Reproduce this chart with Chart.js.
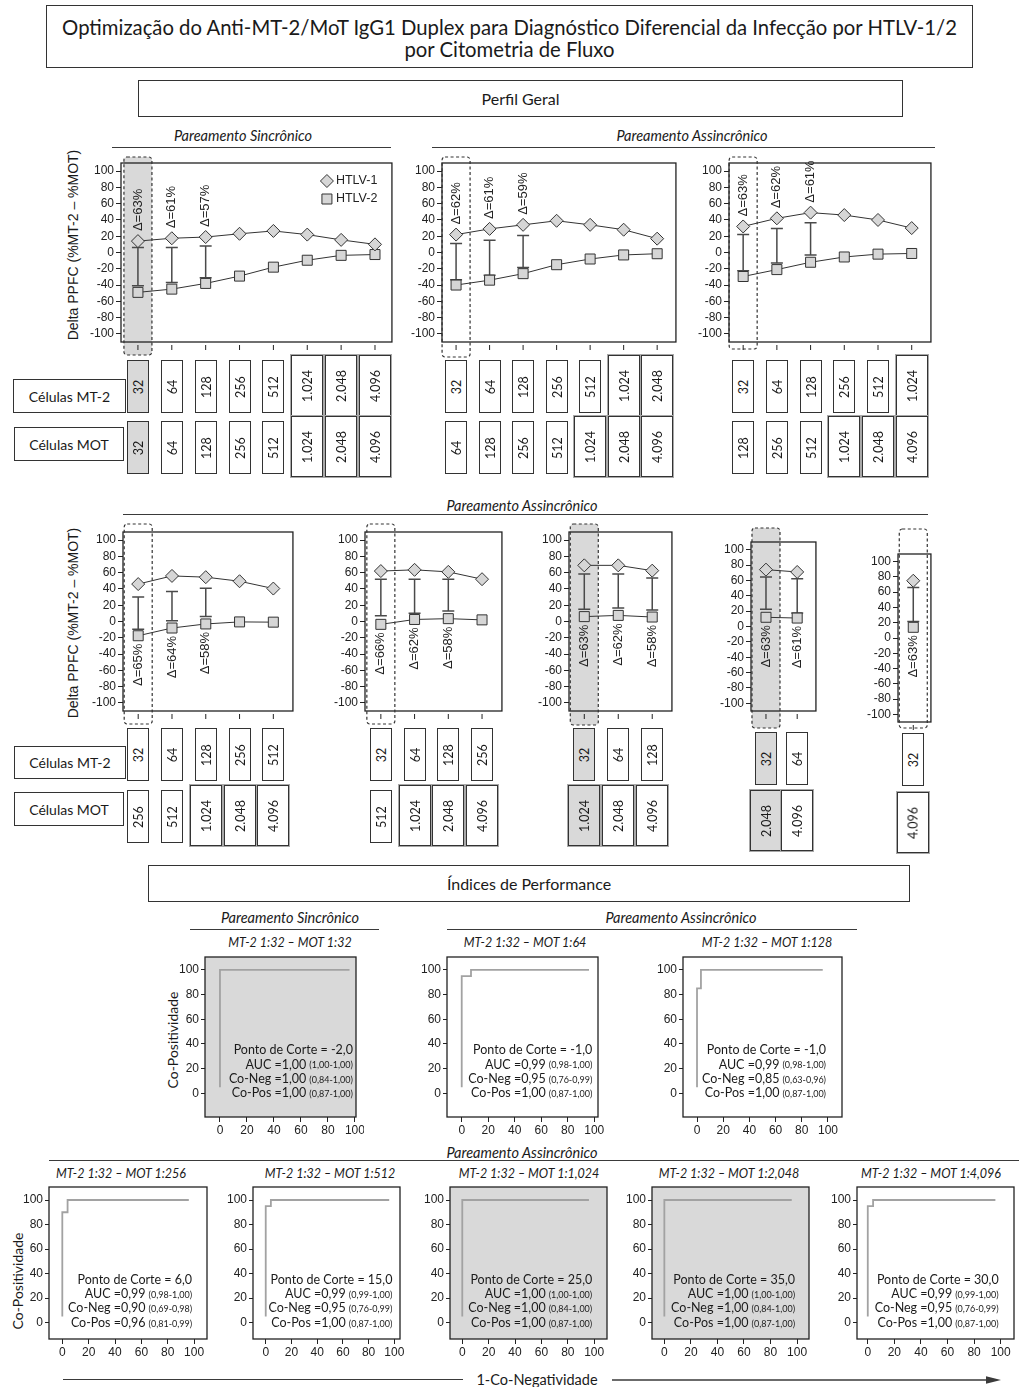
<!DOCTYPE html>
<html lang="pt-BR">
<head>
<meta charset="utf-8">
<title>Anti-MT-2/MoT IgG1 Duplex – HTLV-1/2</title>
<script src="https://cdn.jsdelivr.net/npm/chart.js@4.4.1/dist/chart.umd.min.js"></script>
<style>
  html, body { margin: 0; padding: 0; background: #fff; }
  #page { position: relative; width: 1019px; height: 1387px; overflow: hidden; font-family: Lato, 'Open Sans', sans-serif; color: #1a1a1a; }
  #page > * { position: absolute; }
  .frame { border: 1px solid #333; box-sizing: border-box; display: flex; align-items: center; justify-content: center; text-align: center; background: #fff; }
  .ctr { transform: translate(-50%, -50%); white-space: nowrap; }
  .it { font-style: italic; }
  .rule { height: 0; border-top: 1.4px solid #3a3a3a; }
  .vert { white-space: nowrap; transform: translate(-50%, -50%) rotate(-90deg); }
  .cell { border: 1px solid #333; box-sizing: border-box; background: #fff; }
  .cell.big { box-shadow: 0 0 0 1px #a8a8a8; }
  .cell.hl { background: #d9d9d9; }
  .cell span { position: absolute; left: 50%; top: 50%; transform: translate(-50%, -50%) rotate(-90deg); white-space: nowrap; font-size: 12.5px; }
</style>
</head>
<body>
<div id="page"></div>
<script>
// ---------------- Perfil geral: Delta PPFC (%MT-2 - %MOT) ----------------
// Pareamento sincrônico: MT-2 e MOT na mesma diluição
const SINC_MT2    = ['32', '64', '128', '256', '512', '1.024', '2.048', '4.096'];
const SINC_MOT    = ['32', '64', '128', '256', '512', '1.024', '2.048', '4.096'];
const SINC_HTLV1  = [14, 17.5, 19, 23, 26.5, 22, 15.5, 10];
const SINC_HTLV2  = [-49, -45, -38, -29, -18, -9.5, -3.5, -2.5];
const SINC_BAR_HI = [6, 6, 8];
const SINC_BAR_LO = [-41, -37, -31];
const SINC_DELTA  = ['Δ=63%', 'Δ=61%', 'Δ=57%'];

// Pareamento assincrônico, MOT 2x mais diluída
const ASS2_MT2    = ['32', '64', '128', '256', '512', '1.024', '2.048'];
const ASS2_MOT    = ['64', '128', '256', '512', '1.024', '2.048', '4.096'];
const ASS2_HTLV1  = [22, 29, 34, 39, 34, 28, 17];
const ASS2_HTLV2  = [-40, -34, -26, -15, -8, -3, -1.5];
const ASS2_BAR_HI = [11, 15, 21];
const ASS2_BAR_LO = [-33.5, -28, -18.5];
const ASS2_DELTA  = ['Δ=62%', 'Δ=61%', 'Δ=59%'];

// MOT 4x mais diluída
const ASS4_MT2    = ['32', '64', '128', '256', '512', '1.024'];
const ASS4_MOT    = ['128', '256', '512', '1.024', '2.048', '4.096'];
const ASS4_HTLV1  = [32, 42, 49, 46, 40, 30];
const ASS4_HTLV2  = [-29.5, -21, -12, -5.5, -2, -1.2];
const ASS4_BAR_HI = [22, 29.5, 36.5];
const ASS4_BAR_LO = [-22.5, -13, -3];
const ASS4_DELTA  = ['Δ=63%', 'Δ=62%', 'Δ=61%'];

// MOT 8x mais diluída
const ASS8_MT2    = ['32', '64', '128', '256', '512'];
const ASS8_MOT    = ['256', '512', '1.024', '2.048', '4.096'];
const ASS8_HTLV1  = [46, 56, 54.5, 49.5, 40.5];
const ASS8_HTLV2  = [-17.5, -8, -3, -0.5, -0.8];
const ASS8_BAR_HI = [30, 37, 41];
const ASS8_BAR_LO = [-9.5, 0.8, 6];
const ASS8_DELTA  = ['Δ=65%', 'Δ=64%', 'Δ=58%'];

// MOT 16x mais diluída
const ASS16_MT2    = ['32', '64', '128', '256'];
const ASS16_MOT    = ['512', '1.024', '2.048', '4.096'];
const ASS16_HTLV1  = [62, 63.5, 61, 52];
const ASS16_HTLV2  = [-3.5, 2.5, 3.5, 2];
const ASS16_BAR_HI = [52, 52, 52];
const ASS16_BAR_LO = [7, 10, 13];
const ASS16_DELTA  = ['Δ=66%', 'Δ=62%', 'Δ=58%'];

// MOT 32x mais diluída
const ASS32_MT2    = ['32', '64', '128'];
const ASS32_MOT    = ['1.024', '2.048', '4.096'];
const ASS32_HTLV1  = [69, 69, 62.5];
const ASS32_HTLV2  = [6, 7.5, 5.5];
const ASS32_BAR_HI = [58.5, 58.5, 53.5];
const ASS32_BAR_LO = [15, 16.5, 14];
const ASS32_DELTA  = ['Δ=63%', 'Δ=62%', 'Δ=58%'];

// MOT 64x mais diluída
const ASS64_MT2    = ['32', '64'];
const ASS64_MOT    = ['2.048', '4.096'];
const ASS64_HTLV1  = [74, 71];
const ASS64_HTLV2  = [12, 11];
const ASS64_BAR_HI = [64.5, 62];
const ASS64_BAR_LO = [22.5, 17.5];
const ASS64_DELTA  = ['Δ=63%', 'Δ=61%'];

// MOT 128x mais diluída
const ASS128_MT2    = ['32'];
const ASS128_MOT    = ['4.096'];
const ASS128_HTLV1  = [75];
const ASS128_HTLV2  = [14];
const ASS128_BAR_HI = [66];
const ASS128_BAR_LO = [21.5];
const ASS128_DELTA  = ['Δ=63%'];

const DELTA_TICKS = [-100, -80, -60, -40, -20, 0, 20, 40, 60, 80, 100];

// ---------------- Índices de performance: curvas ROC ----------------
// x = 1-Co-Negatividade (%), y = Co-Positividade (%)
const ROC_S32_X   = [0, 0, 96];          const ROC_S32_Y   = [5, 100, 100];
const ROC_A64_X   = [0, 0, 7, 7, 96];    const ROC_A64_Y   = [5, 95, 95, 100, 100];
const ROC_A128_X  = [0, 0, 3, 3, 96];    const ROC_A128_Y  = [5, 85, 85, 100, 100];
const ROC_A256_X  = [0, 0, 4, 4, 96];    const ROC_A256_Y  = [5, 90, 90, 100, 100];
const ROC_A512_X  = [0, 0, 4, 4, 96];    const ROC_A512_Y  = [5, 95, 95, 100, 100];
const ROC_A1024_X = [0, 0, 96];          const ROC_A1024_Y = [5, 100, 100];
const ROC_A2048_X = [0, 0, 96];          const ROC_A2048_Y = [5, 100, 100];
const ROC_A4096_X = [0, 0, 4, 4, 96];    const ROC_A4096_Y = [5, 95, 95, 100, 100];

const ROC_TITLES   = ['MT-2 1:32 – MOT 1:32', 'MT-2 1:32 – MOT 1:64', 'MT-2 1:32 – MOT 1:128',
                      'MT-2 1:32 – MOT 1:256', 'MT-2 1:32 – MOT 1:512', 'MT-2 1:32 – MOT 1:1,024',
                      'MT-2 1:32 – MOT 1:2,048', 'MT-2 1:32 – MOT 1:4,096'];
const ROC_CUTOFF   = ['-2,0', '-1,0', '-1,0', '6,0', '15,0', '25,0', '35,0', '30,0'];
const ROC_AUC      = ['1,00', '0,99', '0,99', '0,99', '0,99', '1,00', '1,00', '0,99'];
const ROC_AUC_CI   = ['1,00-1,00', '0,98-1,00', '0,98-1,00', '0,98-1,00', '0,99-1,00', '1,00-1,00', '1,00-1,00', '0,99-1,00'];
const ROC_CONEG    = ['1,00', '0,95', '0,85', '0,90', '0,95', '1,00', '1,00', '0,95'];
const ROC_CONEG_CI = ['0,84-1,00', '0,76-0,99', '0,63-0,96', '0,69-0,98', '0,76-0,99', '0,84-1,00', '0,84-1,00', '0,76-0,99'];
const ROC_COPOS    = ['1,00', '1,00', '1,00', '0,96', '1,00', '1,00', '1,00', '1,00'];
const ROC_COPOS_CI = ['0,87-1,00', '0,87-1,00', '0,87-1,00', '0,81-0,99', '0,87-1,00', '0,87-1,00', '0,87-1,00', '0,87-1,00'];
const ROC_TICKS    = [0, 20, 40, 60, 80, 100];

// ---------------- page helpers ----------------
const PAGE = document.getElementById('page');
const SANS = "'Liberation Sans', Arial, sans-serif";
const BODY = "Lato, 'Open Sans', sans-serif";
const INK = '#222';
const MARK_FILL = '#d6d6d6';
const MARK_EDGE = '#333';
const HL_FILL = '#d9d9d9';
Chart.defaults.font.family = SANS;
Chart.defaults.color = INK;

function el(tag, cls, css, text) {
  const e = document.createElement(tag);
  if (cls) e.className = cls;
  Object.assign(e.style, css);
  if (text != null) e.textContent = text;
  PAGE.appendChild(e);
  return e;
}
const px = v => v + 'px';
function box(l, t, w, h, text, fs) {
  return el('div', 'frame', { left: px(l), top: px(t), width: px(w), height: px(h), fontSize: px(fs) }, text);
}
function label(x, y, text, fs, italic) {
  return el('div', 'ctr' + (italic ? ' it' : ''), { left: px(x), top: px(y), fontSize: px(fs) }, text);
}
function vlabel(x, y, text, fs, family) {
  return el('div', 'vert', { left: px(x), top: px(y), fontSize: px(fs), fontFamily: family }, text);
}
function rule(x1, x2, y) {
  return el('div', 'rule', { left: px(x1), top: px(y), width: px(x2 - x1) });
}
function cell(cx, top, text, grey) {
  const big = text.length > 3;
  const w = big ? 32 : 22, h = big ? 61 : 53, t = big ? top - 5 : top;
  const c = el('div', 'cell' + (big ? ' big' : '') + (grey ? ' hl' : ''),
    { left: px(cx - w / 2), top: px(t), width: px(w), height: px(h) });
  const s = document.createElement('span');
  s.textContent = text;
  c.appendChild(s);
}
function makeCanvas(plot, pad) {
  const c = document.createElement('canvas');
  const w = plot.r - plot.l + pad.l + pad.r, h = plot.b - plot.t + pad.t + pad.b;
  c.width = w; c.height = h;
  Object.assign(c.style, { left: px(plot.l - pad.l), top: px(plot.t - pad.t), width: px(w), height: px(h) });
  PAGE.appendChild(c);
  return c;
}
// fixed tick positions taken from a list of values
const fixedTicks = list => s => { s.ticks = list.map(v => ({ value: v })); };

function drawMarker(ctx, kind, x, y) {
  ctx.beginPath();
  if (kind === 'diamond') {
    const r = 6.5;
    ctx.moveTo(x - r, y); ctx.lineTo(x, y - r); ctx.lineTo(x + r, y); ctx.lineTo(x, y + r); ctx.closePath();
  } else {
    ctx.rect(x - 5, y - 5, 10, 10);
  }
  ctx.fillStyle = MARK_FILL; ctx.fill();
  ctx.lineWidth = 1; ctx.strokeStyle = MARK_EDGE; ctx.stroke();
}

// ---------------- static text & frames ----------------
const title = box(46, 5, 927, 63, null, 20.3);
title.style.lineHeight = '22px';
title.style.paddingTop = '3px';
title.innerHTML = 'Optimização do Anti-MT-2/MoT IgG1 Duplex para Diagnóstico Diferencial da Infecção por HTLV-1/2<br>por Citometria de Fluxo';

box(138, 80, 765, 37, 'Perfil Geral', 16);
label(243, 135, 'Pareamento Sincrônico', 14.5, true);
rule(112, 391, 147);
label(692, 135, 'Pareamento Assincrônico', 14.5, true);
rule(432, 935, 147);
vlabel(73, 245, 'Delta PPFC (%MT-2 – %MOT)', 14, SANS);
box(13, 379, 113, 34, 'Células MT-2', 14);
box(14, 427, 110, 34, 'Células MOT', 14);

label(522, 505, 'Pareamento Assincrônico', 14.5, true);
rule(123, 928, 514);
vlabel(73, 623, 'Delta PPFC (%MT-2 – %MOT)', 14, SANS);
box(14, 746, 112, 33, 'Células MT-2', 14);
box(14, 792, 110, 34, 'Células MOT', 14);

box(148, 865, 762, 37, 'Índices de Performance', 16);
label(290, 917, 'Pareamento Sincrônico', 14.5, true);
rule(190, 379, 929);
label(681, 917, 'Pareamento Assincrônico', 14.5, true);
rule(447, 857, 929);
vlabel(172, 1040, 'Co-Positividade', 14, BODY);

label(522, 1152, 'Pareamento Assincrônico', 14.5, true);
rule(49, 1019, 1160);
vlabel(17, 1281, 'Co-Positividade', 14, BODY);

label(537, 1379, '1-Co-Negatividade', 14.5, false);
rule(63, 463, 1379);
const arrow = document.createElementNS('http://www.w3.org/2000/svg', 'svg');
arrow.setAttribute('width', '400'); arrow.setAttribute('height', '14');
Object.assign(arrow.style, { left: '606px', top: '1373px' });
arrow.innerHTML = '<line x1="6" y1="7" x2="388" y2="7" stroke="#3a3a3a" stroke-width="1.4"/>' +
                  '<polygon points="380,3.2 395,7 380,10.8" fill="#3a3a3a"/>';
PAGE.appendChild(arrow);

// ---------------- Delta PPFC panels ----------------
const DELTA_PANELS = [
  { mt2: SINC_MT2, mot: SINC_MOT, h1: SINC_HTLV1, h2: SINC_HTLV2, hi: SINC_BAR_HI, lo: SINC_BAR_LO, delta: SINC_DELTA,
    plot: { l: 121, t: 163, r: 392, b: 342 }, xr: [-0.5, 7.5], text: 'above', hl: { fill: true, t: 157, b: 355 }, cells: [360, 421], legend: true },
  { mt2: ASS2_MT2, mot: ASS2_MOT, h1: ASS2_HTLV1, h2: ASS2_HTLV2, hi: ASS2_BAR_HI, lo: ASS2_BAR_LO, delta: ASS2_DELTA,
    plot: { l: 442, t: 163, r: 676, b: 342 }, xr: [-0.42, 6.56], text: 'above', hl: { fill: false, t: 157, b: 357 }, cells: [360, 421] },
  { mt2: ASS4_MT2, mot: ASS4_MOT, h1: ASS4_HTLV1, h2: ASS4_HTLV2, hi: ASS4_BAR_HI, lo: ASS4_BAR_LO, delta: ASS4_DELTA,
    plot: { l: 729, t: 163, r: 931, b: 342 }, xr: [-0.42, 5.57], text: 'above', hl: { fill: false, t: 157, b: 349 }, cells: [360, 421] },
  { mt2: ASS8_MT2, mot: ASS8_MOT, h1: ASS8_HTLV1, h2: ASS8_HTLV2, hi: ASS8_BAR_HI, lo: ASS8_BAR_LO, delta: ASS8_DELTA,
    plot: { l: 123, t: 532, r: 293, b: 711 }, xr: [-0.45, 4.58], text: 'below', hl: { fill: false, t: 524, b: 724 }, cells: [728, 790] },
  { mt2: ASS16_MT2, mot: ASS16_MOT, h1: ASS16_HTLV1, h2: ASS16_HTLV2, hi: ASS16_BAR_HI, lo: ASS16_BAR_LO, delta: ASS16_DELTA,
    plot: { l: 365, t: 532, r: 502, b: 711 }, xr: [-0.47, 3.59], text: 'below', hl: { fill: false, t: 524, b: 724 }, cells: [728, 790] },
  { mt2: ASS32_MT2, mot: ASS32_MOT, h1: ASS32_HTLV1, h2: ASS32_HTLV2, hi: ASS32_BAR_HI, lo: ASS32_BAR_LO, delta: ASS32_DELTA,
    plot: { l: 569, t: 532, r: 672, b: 711 }, xr: [-0.45, 2.58], text: 'below', hl: { fill: true, t: 524, b: 725 }, cells: [728, 790] },
  { mt2: ASS64_MT2, mot: ASS64_MOT, h1: ASS64_HTLV1, h2: ASS64_HTLV2, hi: ASS64_BAR_HI, lo: ASS64_BAR_LO, delta: ASS64_DELTA,
    plot: { l: 751, t: 542, r: 816, b: 711 }, xr: [-0.48, 1.6], text: 'below', hl: { fill: true, t: 528, b: 728 }, cells: [732, 795] },
  { mt2: ASS128_MT2, mot: ASS128_MOT, h1: ASS128_HTLV1, h2: ASS128_HTLV2, hi: ASS128_BAR_HI, lo: ASS128_BAR_LO, delta: ASS128_DELTA,
    plot: { l: 898, t: 554, r: 931, b: 722 }, xr: [-0.45, 0.52], text: 'below', hl: { fill: false, t: 529, b: 728 }, cells: [733, 797] }
];

function deltaExtras(cfg) {
  const oy = cfg.plot.t - cfg.pad.t;
  return {
    id: 'deltaExtras',
    beforeDatasetsDraw(chart) {
      const { ctx, chartArea: a, scales: { x, y } } = chart;
      const hx = x.getPixelForValue(0);
      ctx.save();
      if (cfg.hl.fill) {
        ctx.fillStyle = HL_FILL;
        ctx.beginPath(); ctx.roundRect(hx - 14, cfg.hl.t - oy, 28, cfg.hl.b - cfg.hl.t, 3); ctx.fill();
      }
      // plot frame
      ctx.strokeStyle = INK; ctx.lineWidth = 1.3;
      ctx.strokeRect(a.left, a.top, a.right - a.left, a.bottom - a.top);
      // category tick marks under the frame
      ctx.lineWidth = 1;
      cfg.mt2.forEach((_, i) => {
        const p = x.getPixelForValue(i);
        ctx.beginPath(); ctx.moveTo(p, a.bottom + 3); ctx.lineTo(p, a.bottom + 8); ctx.stroke();
      });
      // error bars between the groups
      ctx.strokeStyle = '#4a4a4a'; ctx.lineWidth = 1.5;
      cfg.hi.forEach((h, i) => {
        const p = x.getPixelForValue(i), y1 = y.getPixelForValue(h), y2 = y.getPixelForValue(cfg.lo[i]);
        ctx.beginPath();
        ctx.moveTo(p, y1); ctx.lineTo(p, y2);
        ctx.moveTo(p - 6, y1); ctx.lineTo(p + 6, y1);
        ctx.moveTo(p - 6, y2); ctx.lineTo(p + 6, y2);
        ctx.stroke();
      });
      ctx.restore();
    },
    afterDatasetsDraw(chart) {
      const { ctx, chartArea: a, scales: { x, y } } = chart;
      const hx = x.getPixelForValue(0);
      ctx.save();
      ctx.strokeStyle = '#333'; ctx.lineWidth = 1.2; ctx.setLineDash([3, 2.5]);
      ctx.beginPath(); ctx.roundRect(hx - 14, cfg.hl.t - oy, 28, cfg.hl.b - cfg.hl.t, 3); ctx.stroke();
      ctx.setLineDash([]);
      // Δ labels
      ctx.fillStyle = INK; ctx.font = '13px ' + SANS; ctx.textBaseline = 'middle';
      cfg.delta.forEach((txt, i) => {
        const p = x.getPixelForValue(i);
        ctx.save();
        if (cfg.text === 'above') {
          ctx.translate(p, y.getPixelForValue(cfg.h1[i]) - 10);
          ctx.rotate(-Math.PI / 2); ctx.textAlign = 'left';
        } else {
          const low = Math.max(y.getPixelForValue(cfg.h2[i]), y.getPixelForValue(cfg.lo[i]));
          ctx.translate(p, low + 8);
          ctx.rotate(-Math.PI / 2); ctx.textAlign = 'right';
        }
        ctx.fillText(txt, 0, 0);
        ctx.restore();
      });
      if (cfg.legend) {
        const lx = a.right - 65;
        ctx.font = '12.5px ' + SANS; ctx.textAlign = 'left';
        chart.data.datasets.forEach((ds, k) => {
          const ly = a.top + 18 + k * 18;
          drawMarker(ctx, k === 0 ? 'diamond' : 'square', lx, ly);
          ctx.fillStyle = INK; ctx.fillText(ds.label, lx + 9, ly);
        });
      }
      ctx.restore();
    }
  };
}

function deltaPanel(cfg) {
  const Y_W = 40;
  cfg.pad = { l: 46, t: 30, r: 8, b: 24 };
  const cv = makeCanvas(cfg.plot, cfg.pad);
  const pts = arr => arr.map((v, i) => ({ x: i, y: v }));
  const common = { borderColor: '#333', borderWidth: 1, backgroundColor: MARK_FILL, pointBackgroundColor: MARK_FILL,
                   pointBorderColor: MARK_EDGE, pointBorderWidth: 1, tension: 0, clip: false };
  const chart = new Chart(cv, {
    type: 'line',
    data: { datasets: [
      Object.assign({ label: 'HTLV-1', data: pts(cfg.h1), pointStyle: 'rectRot', pointRadius: 6.5 }, common),
      Object.assign({ label: 'HTLV-2', data: pts(cfg.h2), pointStyle: 'rect', pointRadius: 7.07 }, common)
    ] },
    options: {
      responsive: false, animation: false, events: [],
      layout: { padding: { left: cfg.pad.l - Y_W, top: cfg.pad.t, right: cfg.pad.r, bottom: cfg.pad.b } },
      plugins: { legend: { display: false }, tooltip: { enabled: false } },
      scales: {
        x: { type: 'linear', display: false, min: cfg.xr[0], max: cfg.xr[1] },
        y: {
          min: -110, max: 110,
          border: { display: false },
          grid: { drawOnChartArea: false, drawTicks: true, tickLength: 5, tickColor: INK },
          ticks: { autoSkip: false, font: { family: SANS, size: 12 }, color: INK, padding: 2 },
          afterBuildTicks: fixedTicks(DELTA_TICKS),
          afterFit(s) { s.width = Y_W; s.paddingTop = 0; s.paddingBottom = 0; }
        }
      }
    },
    plugins: [deltaExtras(cfg)]
  });
  const ox = cfg.plot.l - cfg.pad.l;
  cfg.mt2.forEach((t, i) => cell(ox + chart.scales.x.getPixelForValue(i), cfg.cells[0], t, cfg.hl.fill && i === 0));
  cfg.mot.forEach((t, i) => cell(ox + chart.scales.x.getPixelForValue(i), cfg.cells[1], t, cfg.hl.fill && i === 0));
}
DELTA_PANELS.forEach(deltaPanel);

// ---------------- ROC panels ----------------
const ROC_ROW1_Y = [-19.2, 110.5];
const ROC_ROW2_Y = [-13.3, 110.6];
const ROC_PANELS = [
  { x: ROC_S32_X,   y: ROC_S32_Y,   plot: { l: 205, t: 957, r: 356, b: 1117 },  xr: [-11.1, 100.8], yr: ROC_ROW1_Y, grey: true,  tx: 290, ty: 942 },
  { x: ROC_A64_X,   y: ROC_A64_Y,   plot: { l: 447, t: 957, r: 598, b: 1117 },  xr: [-11.1, 102.8], yr: ROC_ROW1_Y, grey: false, tx: 525, ty: 942 },
  { x: ROC_A128_X,  y: ROC_A128_Y,  plot: { l: 683, t: 957, r: 842, b: 1117 },  xr: [-10.7, 110.7], yr: ROC_ROW1_Y, grey: false, tx: 767, ty: 942 },
  { x: ROC_A256_X,  y: ROC_A256_Y,  plot: { l: 49,  t: 1187, r: 207, b: 1339 }, xr: [-10.1, 109.8], yr: ROC_ROW2_Y, grey: false, tx: 121, ty: 1173 },
  { x: ROC_A512_X,  y: ROC_A512_Y,  plot: { l: 253, t: 1187, r: 400, b: 1339 }, xr: [-9.9, 104.4],  yr: ROC_ROW2_Y, grey: false, tx: 330, ty: 1173 },
  { x: ROC_A1024_X, y: ROC_A1024_Y, plot: { l: 450, t: 1187, r: 607, b: 1339 }, xr: [-9.3, 109.7],  yr: ROC_ROW2_Y, grey: true,  tx: 529, ty: 1173 },
  { x: ROC_A2048_X, y: ROC_A2048_Y, plot: { l: 652, t: 1187, r: 809, b: 1339 }, xr: [-9.3, 109],    yr: ROC_ROW2_Y, grey: true,  tx: 729, ty: 1173 },
  { x: ROC_A4096_X, y: ROC_A4096_Y, plot: { l: 857, t: 1187, r: 1014, b: 1339 }, xr: [-8.1, 110],   yr: ROC_ROW2_Y, grey: false, tx: 931, ty: 1173 }
];

function rocExtras(cfg, k) {
  return {
    id: 'rocExtras',
    beforeDatasetsDraw(chart) {
      const { ctx, chartArea: a } = chart;
      if (cfg.grey) { ctx.save(); ctx.fillStyle = HL_FILL; ctx.fillRect(a.left, a.top, a.right - a.left, a.bottom - a.top); ctx.restore(); }
    },
    afterDatasetsDraw(chart) {
      const { ctx, chartArea: a, scales: { x, y } } = chart;
      ctx.save();
      ctx.strokeStyle = INK; ctx.lineWidth = 1.3;
      ctx.strokeRect(a.left, a.top, a.right - a.left, a.bottom - a.top);
      const xr = x.getPixelForValue(98.5), y0 = y.getPixelForValue(0);
      const lines = [
        ['Ponto de Corte = ' + ROC_CUTOFF[k], null],
        ['AUC =' + ROC_AUC[k], ROC_AUC_CI[k]],
        ['Co-Neg =' + ROC_CONEG[k], ROC_CONEG_CI[k]],
        ['Co-Pos =' + ROC_COPOS[k], ROC_COPOS_CI[k]]
      ];
      ctx.fillStyle = '#1a1a1a'; ctx.textAlign = 'right'; ctx.textBaseline = 'middle';
      lines.forEach(([main, ci], j) => {
        const yy = y0 - (3 - j) * 14.4;
        let right = xr;
        if (ci) {
          ctx.font = '9px ' + BODY;
          const s = '(' + ci + ')';
          ctx.fillText(s, right, yy + 1);
          right -= ctx.measureText(s).width + 3;
        }
        ctx.font = '12.5px ' + BODY;
        ctx.fillText(main, right, yy);
      });
      ctx.restore();
    }
  };
}

function rocPanel(cfg, k) {
  const Y_W = 34, X_H = 24;
  const pad = { l: 40, t: 4, r: 8, b: 26 };
  label(cfg.tx, cfg.ty, ROC_TITLES[k], 12.5, true);
  const cv = makeCanvas(cfg.plot, pad);
  new Chart(cv, {
    type: 'line',
    data: { datasets: [{
      label: ROC_TITLES[k],
      data: cfg.x.map((v, i) => ({ x: v, y: cfg.y[i] })),
      borderColor: '#a2a2a2', borderWidth: 1.8, pointRadius: 0, tension: 0, fill: false
    }] },
    options: {
      responsive: false, animation: false, events: [],
      layout: { padding: { left: pad.l - Y_W, top: pad.t, right: pad.r, bottom: pad.b - X_H } },
      plugins: { legend: { display: false }, tooltip: { enabled: false } },
      scales: {
        x: {
          type: 'linear', min: cfg.xr[0], max: cfg.xr[1],
          border: { display: false },
          grid: { drawOnChartArea: false, drawTicks: true, tickLength: 5, tickColor: INK },
          ticks: { autoSkip: false, maxRotation: 0, font: { family: SANS, size: 12 }, color: INK, padding: 1 },
          afterBuildTicks: fixedTicks(ROC_TICKS),
          afterFit(s) { s.height = X_H; s.paddingLeft = 0; s.paddingRight = 0; }
        },
        y: {
          min: cfg.yr[0], max: cfg.yr[1],
          border: { display: false },
          grid: { drawOnChartArea: false, drawTicks: true, tickLength: 4, tickColor: INK },
          ticks: { autoSkip: false, font: { family: SANS, size: 12 }, color: INK, padding: 2 },
          afterBuildTicks: fixedTicks(ROC_TICKS),
          afterFit(s) { s.width = Y_W; s.paddingTop = 0; s.paddingBottom = 0; }
        }
      }
    },
    plugins: [rocExtras(cfg, k)]
  });
}
ROC_PANELS.forEach(rocPanel);
</script>
</body>
</html>
